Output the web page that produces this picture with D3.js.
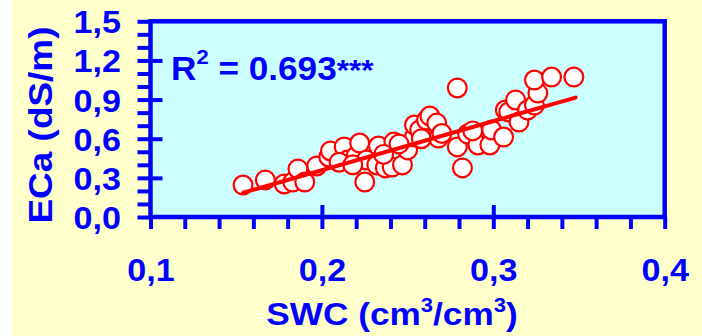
<!DOCTYPE html>
<html>
<head>
<meta charset="utf-8">
<script src="https://cdn.jsdelivr.net/npm/d3@7"></script>
<style>
  html, body { margin: 0; padding: 0; background: #ffffff; }
  svg { display: block; }
  text { font-family: "Liberation Sans", Arial, sans-serif; font-weight: bold; fill: #0000ff; }
</style>
</head>
<body>
<svg id="chart" width="702" height="336"></svg>
<script>
// Soil water content (cm3/cm3) vs apparent electrical conductivity (dS/m)
const swc = [0.154, 0.167, 0.178, 0.183, 0.186, 0.190, 0.197, 0.204, 0.205, 0.213,
             0.215, 0.220, 0.222, 0.225, 0.226, 0.232, 0.233, 0.237, 0.241, 0.242,
             0.247, 0.250, 0.254, 0.254, 0.257, 0.261, 0.263, 0.267, 0.268, 0.279,
             0.279, 0.282, 0.285, 0.291, 0.298, 0.299, 0.306, 0.307, 0.309, 0.313,
             0.315, 0.320, 0.324, 0.326, 0.324, 0.334, 0.347, 0.210, 0.218, 0.236,
             0.245, 0.258, 0.270, 0.288];
const eca = [0.245, 0.284, 0.253, 0.268, 0.368, 0.268, 0.391, 0.460, 0.506, 0.537,
             0.437, 0.468, 0.567, 0.268, 0.437, 0.399, 0.544, 0.376, 0.383, 0.575,
             0.399, 0.514, 0.613, 0.705, 0.667, 0.743, 0.774, 0.720, 0.605, 0.537,
             0.989, 0.376, 0.636, 0.552, 0.552, 0.667, 0.613, 0.820, 0.805, 0.897,
             0.728, 0.820, 0.858, 0.950, 1.050, 1.073, 1.073, 0.420, 0.400, 0.480,
             0.560, 0.600, 0.640, 0.660];

// Linear fit: ECa = a + b * SWC, drawn across the sampled range
const fitCoef = [-0.393, 3.76];
const fitRange = [0.154, 0.348];

const xTicks = [0.1, 0.2, 0.3, 0.4];
const xTickLabels = ["0,1", "0,2", "0,3", "0,4"];
const yTicks = [0.0, 0.3, 0.6, 0.9, 1.2, 1.5];
const yTickLabels = ["0,0", "0,3", "0,6", "0,9", "1,2", "1,5"];
const r2Label = "0.693";

const BLUE = "#0000ff", RED = "#ff0000";
const svg = d3.select("#chart");

// page background
svg.append("rect").attr("x", 12).attr("y", 0).attr("width", 690).attr("height", 336)
   .attr("fill", "#ffffcc");

const L = 150.5, R = 664.7, T = 21.3, B = 217;
const x = d3.scaleLinear().domain([0.1, 0.4]).range([L, R]);
const y = d3.scaleLinear().domain([0, 1.5]).range([B, T]);

// plot area
svg.append("rect").attr("x", L).attr("y", T).attr("width", R - L).attr("height", B - T)
   .attr("fill", "#ccffff");

// scatter points
svg.append("g").selectAll("circle")
  .data(d3.zip(swc, eca))
  .join("circle")
  .attr("cx", d => x(d[0])).attr("cy", d => y(d[1])).attr("r", 9.4)
  .attr("fill", "#ffffff").attr("stroke", RED).attr("stroke-width", 2.2);

// regression line
svg.append("line")
  .attr("x1", x(fitRange[0])).attr("y1", y(fitCoef[0] + fitCoef[1] * fitRange[0]))
  .attr("x2", x(fitRange[1])).attr("y2", y(fitCoef[0] + fitCoef[1] * fitRange[1]))
  .attr("stroke", RED).attr("stroke-width", 4).attr("stroke-linecap", "round");

// frame
svg.append("rect").attr("x", L).attr("y", T).attr("width", R - L).attr("height", B - T)
   .attr("fill", "none").attr("stroke", BLUE).attr("stroke-width", 4.5);

function styleAxis(g) {
  g.select(".domain").remove();
  g.selectAll(".tick line").attr("stroke", BLUE).attr("stroke-width", 4);
}

// y axis: minor (outside), major (inside) and labels
svg.append("g").attr("transform", `translate(${L},0)`)
  .call(d3.axisLeft(y).tickValues(d3.range(0, 16).map(i => i / 10)).tickSize(13).tickFormat(""))
  .call(styleAxis);
svg.append("g").attr("transform", `translate(${L},0)`)
  .call(d3.axisRight(y).tickValues(yTicks.slice(1, -1)).tickSize(12).tickFormat(""))
  .call(styleAxis);
svg.append("g").attr("transform", `translate(${L},0)`)
  .call(d3.axisLeft(y).tickValues(yTicks).tickSize(0).tickFormat((d, i) => yTickLabels[i]))
  .call(g => g.select(".domain").remove())
  .call(g => g.selectAll(".tick text")
    .attr("x", null).attr("dy", null)
    .attr("transform", "translate(-29.5,11.5) scale(1.12,1)")
    .attr("font-size", 30.5).attr("fill", BLUE).attr("text-anchor", "end"));

// x axis: minor (outside), major (inside) and labels
svg.append("g").attr("transform", `translate(0,${B})`)
  .call(d3.axisBottom(x).tickValues(d3.range(0, 16).map(i => 0.1 + i * 0.02)).tickSize(12).tickFormat(""))
  .call(styleAxis);
svg.append("g").attr("transform", `translate(0,${B})`)
  .call(d3.axisTop(x).tickValues(xTicks.slice(1, -1)).tickSize(12).tickFormat(""))
  .call(styleAxis);
svg.append("g").attr("transform", `translate(0,${B})`)
  .call(d3.axisBottom(x).tickValues(xTicks).tickSize(0).tickFormat((d, i) => xTickLabels[i]))
  .call(g => g.select(".domain").remove())
  .call(g => g.selectAll(".tick text")
    .attr("y", null).attr("dy", null)
    .attr("transform", "translate(0,64) scale(1.12,1)")
    .attr("font-size", 30.5).attr("fill", BLUE).attr("text-anchor", "middle"));

// axis titles
const xt = svg.append("text").attr("transform", "translate(392,325) scale(1.1,1)")
  .attr("text-anchor", "middle").attr("font-size", 32);
xt.append("tspan").text("SWC (cm");
xt.append("tspan").attr("font-size", 20).attr("dy", -13).text("3");
xt.append("tspan").attr("dy", 13).text("/cm");
xt.append("tspan").attr("font-size", 20).attr("dy", -13).text("3");
xt.append("tspan").attr("dy", 13).text(")");

svg.append("text").attr("transform", "translate(52,125) rotate(-90) scale(1.12,1)")
  .attr("text-anchor", "middle").attr("font-size", 33).text("ECa (dS/m)");

// coefficient of determination
const r2 = svg.append("text").attr("transform", "translate(171,80) scale(1.05,1)")
  .attr("font-size", 33.5);
r2.append("tspan").text("R");
r2.append("tspan").attr("font-size", 21).attr("dy", -16).text("2");
r2.append("tspan").attr("dy", 16).text(" = " + r2Label);
r2.append("tspan").attr("font-size", 30).text("***");
</script>
</body>
</html>
